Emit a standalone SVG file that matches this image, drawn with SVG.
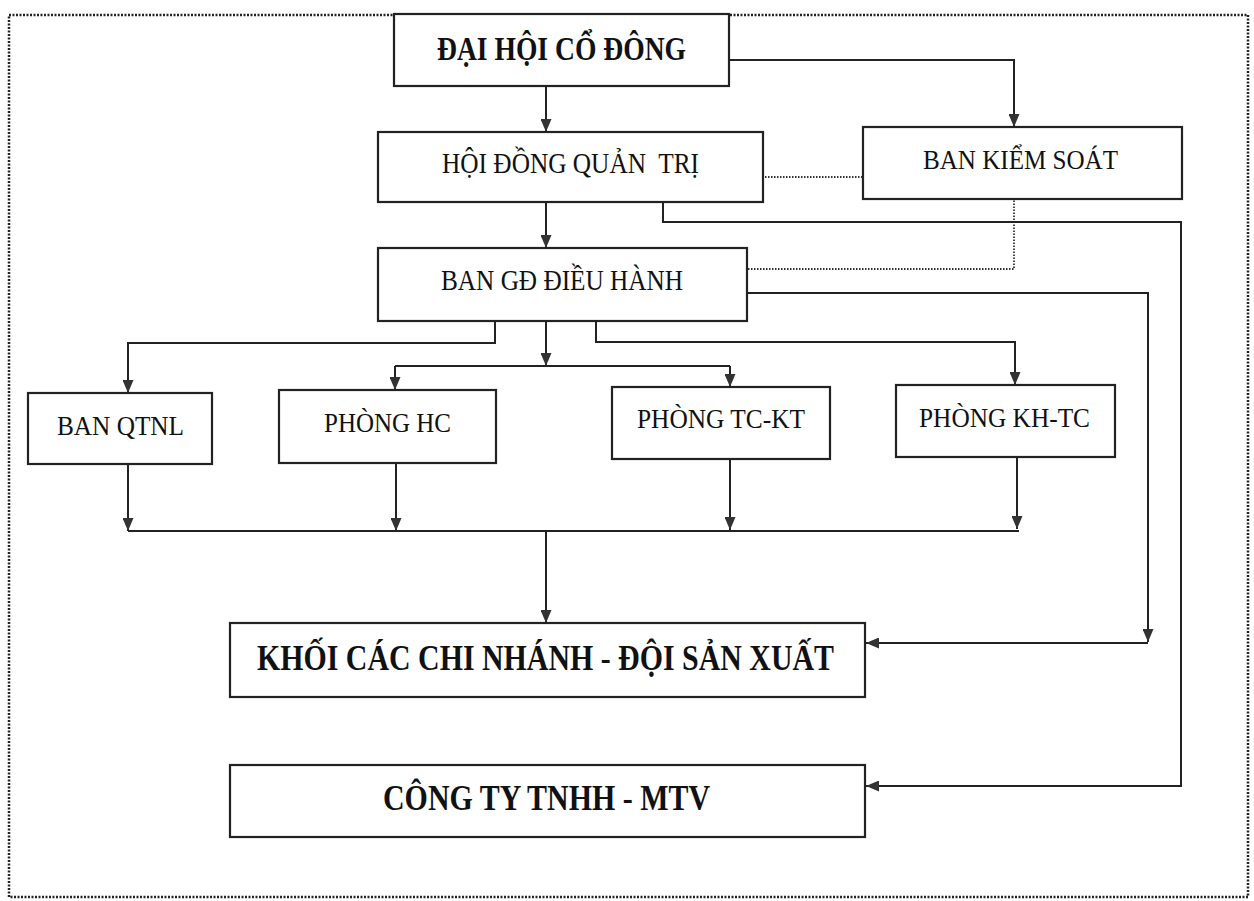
<svg xmlns="http://www.w3.org/2000/svg" width="1254" height="901" viewBox="0 0 1254 901">
<style>
.frame{fill:none;stroke:#222;stroke-width:2.5;stroke-dasharray:2 1.5}
.box{fill:#fff;stroke:#222;stroke-width:2.2}
.ln{fill:none;stroke:#222;stroke-width:2}
.dot{fill:none;stroke:#333;stroke-width:1.8;stroke-dasharray:1.5 1.5}
.t{font-family:"Liberation Serif","Times New Roman",serif;fill:#111;text-anchor:start;white-space:pre}
.b{font-weight:bold}
</style>
<defs>
<marker id="ah" viewBox="0 0 13 11" refX="13" refY="5.5" markerWidth="13" markerHeight="11" markerUnits="userSpaceOnUse" orient="auto">
<path d="M0,0 L13,5.5 L0,11 z" fill="#333"/>
</marker>
</defs>
<rect width="1254" height="901" fill="#fff"/>
<rect class="frame" x="9" y="15" width="1239" height="882"/>

<g id="connectors">
<path class="ln" d="M546,86 V132" marker-end="url(#ah)"/>
<path class="ln" d="M729,60 H1014 V127" marker-end="url(#ah)"/>
<path class="ln" d="M546,202 V248" marker-end="url(#ah)"/>
<path class="dot" d="M765,177 H862"/>
<path class="dot" d="M748,269 H1014 V199"/>
<path class="ln" d="M663,202 V222 H1181 V786 H866" marker-end="url(#ah)"/>
<path class="ln" d="M748,293 H1148 V642" marker-end="url(#ah)"/>
<path class="ln" d="M1148,643 H866" marker-end="url(#ah)"/>
<path class="ln" d="M495,321 V343 H128 V393" marker-end="url(#ah)"/>
<path class="ln" d="M596,321 V342 H1015 V385" marker-end="url(#ah)"/>
<path class="ln" d="M546,321 V366" marker-end="url(#ah)"/>
<path class="ln" d="M395,366 H730"/>
<path class="ln" d="M395,366 V390" marker-end="url(#ah)"/>
<path class="ln" d="M730,366 V387" marker-end="url(#ah)"/>
<path class="ln" d="M128,464 V531" marker-end="url(#ah)"/>
<path class="ln" d="M396,463 V531" marker-end="url(#ah)"/>
<path class="ln" d="M730,459 V530" marker-end="url(#ah)"/>
<path class="ln" d="M1017,457 V529" marker-end="url(#ah)"/>
<path class="ln" d="M128,531 H1019"/>
<path class="ln" d="M546,531 V623" marker-end="url(#ah)"/>
</g>

<g id="dai-hoi-co-dong">
<rect class="box" x="394" y="14" width="335" height="72"/>
<text class="t b" x="437" y="60" font-size="34" textLength="249" lengthAdjust="spacingAndGlyphs">ĐẠI HỘI CỔ ĐÔNG</text>
</g>
<g id="hoi-dong-quan-tri">
<rect class="box" x="378" y="132" width="385" height="70"/>
<text class="t" x="442" y="173" font-size="29" textLength="257" lengthAdjust="spacingAndGlyphs">HỘI ĐỒNG QUẢN  TRỊ</text>
</g>
<g id="ban-kiem-soat">
<rect class="box" x="863" y="127" width="319" height="72"/>
<text class="t" x="923" y="169" font-size="28" textLength="195" lengthAdjust="spacingAndGlyphs">BAN KIỂM SOÁT</text>
</g>
<g id="ban-gd-dieu-hanh">
<rect class="box" x="378" y="248" width="369" height="73"/>
<text class="t" x="441" y="290" font-size="29" textLength="242" lengthAdjust="spacingAndGlyphs">BAN GĐ ĐIỀU HÀNH</text>
</g>
<g id="ban-qtnl">
<rect class="box" x="28" y="393" width="184" height="71"/>
<text class="t" x="57" y="435" font-size="28" textLength="127" lengthAdjust="spacingAndGlyphs">BAN QTNL</text>
</g>
<g id="phong-hc">
<rect class="box" x="279" y="390" width="217" height="73"/>
<text class="t" x="324" y="432" font-size="28" textLength="127" lengthAdjust="spacingAndGlyphs">PHÒNG HC</text>
</g>
<g id="phong-tc-kt">
<rect class="box" x="612" y="387" width="218" height="72"/>
<text class="t" x="637" y="428" font-size="28" textLength="168" lengthAdjust="spacingAndGlyphs">PHÒNG TC-KT</text>
</g>
<g id="phong-kh-tc">
<rect class="box" x="896" y="385" width="219" height="72"/>
<text class="t" x="919" y="427" font-size="28" textLength="171" lengthAdjust="spacingAndGlyphs">PHÒNG KH-TC</text>
</g>
<g id="khoi-chi-nhanh">
<rect class="box" x="230" y="623" width="635" height="74"/>
<text class="t b" x="257" y="670" font-size="36" textLength="577" lengthAdjust="spacingAndGlyphs">KHỐI CÁC CHI NHÁNH - ĐỘI SẢN XUẤT</text>
</g>
<g id="cong-ty-tnhh">
<rect class="box" x="230" y="765" width="635" height="72"/>
<text class="t b" x="383" y="810" font-size="35" textLength="327" lengthAdjust="spacingAndGlyphs">CÔNG TY TNHH - MTV</text>
</g>
</svg>
